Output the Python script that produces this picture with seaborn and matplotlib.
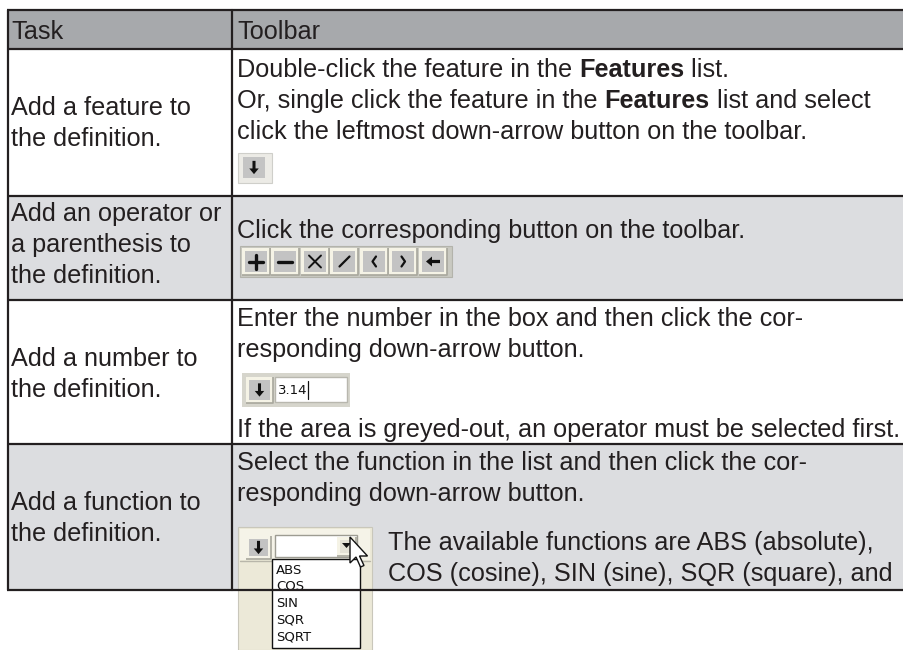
import matplotlib
matplotlib.use("Agg")
import matplotlib.pyplot as plt
from matplotlib.patches import Rectangle, Polygon
import seaborn as sns

# ---------------- data ----------------
header = ["Task", "Toolbar"]
tasks = [
    ["Add a feature to", "the definition."],
    ["Add an operator or", "a parenthesis to", "the definition."],
    ["Add a number to", "the definition."],
    ["Add a function to", "the definition."],
]
row1_lines = [
    [("Double-click the feature in the ", "normal"), ("Features", "bold"), (" list.", "normal")],
    [("Or, single click the feature in the ", "normal"), ("Features", "bold"), (" list and select", "normal")],
    [("click the leftmost down-arrow button on the toolbar.", "normal")],
]
row2_lines = ["Click the corresponding button on the toolbar."]
row3_lines = ["Enter the number in the box and then click the cor-",
              "responding down-arrow button."]
row3_note = "If the area is greyed-out, an operator must be selected first."
row4_lines = ["Select the function in the list and then click the cor-",
              "responding down-arrow button."]
row4_side = ["The available functions are ABS (absolute),",
             "COS (cosine), SIN (sine), SQR (square), and"]
operators = ["+", "−", "×", "/", "(", ")", "←"]
number_value = "3.14"
functions = ["ABS", "COS", "SIN", "SQR", "SQRT"]
row_shaded = [False, True, False, True]

# ---------------- style ----------------
sns.set_theme(style="white")
plt.rcParams["font.family"] = ["Liberation Sans", "DejaVu Sans"]
INK = "#231f20"
HEAD = "#a7a9ac"
SHADE = "#dcdde0"
FS = 18.2
LW = 1.6

fig = plt.figure(figsize=(9.04, 6.5), dpi=100)
ax = fig.add_axes([0, 0, 1, 1])
ax.set_xlim(0, 904)
ax.set_ylim(650, 0)
ax.axis("off")
renderer = fig.canvas.get_renderer()

X0, XD, X1 = 8, 232, 904
edges = [10, 49, 196, 300, 444, 590]

# backgrounds
ax.add_patch(Rectangle((X0, edges[0]), X1 - X0, edges[1] - edges[0], fc=HEAD, ec="none", zorder=0))
for i, sh in enumerate(row_shaded):
    if sh:
        ax.add_patch(Rectangle((X0, edges[i + 1]), X1 - X0, edges[i + 2] - edges[i + 1],
                               fc=SHADE, ec="none", zorder=0))


def rich(x, y, parts, size=FS, zorder=3):
    for s, w in parts:
        t = ax.text(x, y, s, fontsize=size, fontweight=w, color=INK, va="baseline",
                    ha="left", zorder=zorder)
        x += t.get_window_extent(renderer=renderer).width
    return x


def plain(x, y, s):
    rich(x, y, [(s, "normal")])


# header
plain(11, 39, header[0])
plain(237, 39, header[1])

# task column
task_baselines = [[115, 146], [221, 252, 283], [366, 397], [510, 541]]
for lines, bls in zip(tasks, task_baselines):
    for s, b in zip(lines, bls):
        plain(11, b, s)

# toolbar column text
for parts, b in zip(row1_lines, [77, 108, 139]):
    rich(237, b, parts)
plain(237, 238, row2_lines[0])
for s, b in zip(row3_lines, [326, 357]):
    plain(237, b, s)
plain(237, 437, row3_note)
for s, b in zip(row4_lines, [470, 501]):
    plain(237, b, s)
for s, b in zip(row4_side, [550, 581]):
    plain(388, b, s)

# ---------------- widgets ----------------
HI = "#f5f3e6"
SH = "#a8a79c"
FACE = "#c3c3c3"


def raised(x, y, w, h, face=FACE, z=4):
    ax.add_patch(Rectangle((x, y), w, h, fc=HI, ec="none", zorder=z))
    ax.plot([x + w, x + w, x], [y, y + h, y + h], color=SH, lw=1.2, zorder=z + 0.1,
            solid_capstyle="butt")
    ax.add_patch(Rectangle((x + 3, y + 3), w - 6, h - 6, fc=face, ec="none", zorder=z + 0.2))


def down_arrow(cx, cy, s=1.0, z=5):
    pts = [(-1.6, -7), (1.6, -7), (1.6, 1), (5, 1), (0, 7), (-5, 1), (-1.6, 1)]
    ax.add_patch(Polygon([(cx + px * s, cy + py * s) for px, py in pts], closed=True,
                         fc="#111111", ec="none", zorder=z))


def left_arrow(cx, cy, s=1.0, z=5):
    pts = [(7, -1.6), (7, 1.6), (-1, 1.6), (-1, 5), (-7, 0), (-1, -5), (-1, -1.6)]
    ax.add_patch(Polygon([(cx + px * s, cy + py * s) for px, py in pts], closed=True,
                         fc="#111111", ec="none", zorder=z))


# row 1 single down-arrow button
ax.add_patch(Rectangle((238, 153), 34, 30, fc="#ecebe6", ec="#cfcfca", lw=0.8, zorder=4))
ax.add_patch(Rectangle((243, 157), 22, 21, fc="#c4c4c4", ec="none", zorder=4.2))
down_arrow(254, 167.5, 0.95)

# row 2 operator toolbar
ax.add_patch(Rectangle((240, 246), 212, 31, fc="#c9c9c1", ec="#b3b3ab", lw=0.8, zorder=3.5))
bw = 29.5
for k, op in enumerate(operators):
    bx = 242 + k * bw
    raised(bx, 248, bw - 1.5, 27)
    cx, cy = bx + (bw - 1.5) / 2, 261.5
    if op == "←":
        left_arrow(cx, cy, 1.0)
    elif op == "/":
        ax.plot([cx - 5, cx + 5], [cy + 5, cy - 5], color="#111111", lw=1.6, zorder=6)
    elif op == "(":
        ax.plot([cx + 2, cx - 1.5, cx + 2], [cy - 5, cy, cy + 5], color="#111111", lw=1.6, zorder=6)
    elif op == ")":
        ax.plot([cx - 2, cx + 1.5, cx - 2], [cy - 5, cy, cy + 5], color="#111111", lw=1.6, zorder=6)
    elif op == "×":
        ax.plot([cx - 6, cx + 6], [cy - 6, cy + 6], color="#111111", lw=1.4, zorder=6)
        ax.plot([cx - 6, cx + 6], [cy + 6, cy - 6], color="#111111", lw=1.4, zorder=6)
    elif op == "−":
        ax.plot([cx - 7, cx + 7], [cy, cy], color="#111111", lw=2.4, zorder=6)
    else:
        ax.plot([cx - 7, cx + 7], [cy, cy], color="#111111", lw=2.4, zorder=6)
        ax.plot([cx, cx], [cy - 7, cy + 7], color="#111111", lw=2.4, zorder=6)

# row 3 number box
ax.add_patch(Rectangle((242, 373), 108, 34, fc="#d6d5cc", ec="none", zorder=4))
raised(246, 377, 27, 26)
down_arrow(259.5, 390, 0.95)
ax.add_patch(Rectangle((275, 377), 72, 25, fc="white", ec="#b8b7ae", lw=1.0, zorder=4.3))
nt = ax.text(278, 390, number_value, fontsize=9.5, family="DejaVu Sans", color="#111111",
             va="center", ha="left", zorder=5)
xe = 278 + nt.get_window_extent(renderer=renderer).width + 1
ax.plot([xe, xe], [381, 399], color="#111111", lw=0.9, zorder=5)

# row 4 dropdown screenshot
ax.add_patch(Rectangle((238, 527), 134, 123, fc="#ece9d8", ec="#c9c7bb", lw=0.8, zorder=4))
ax.add_patch(Rectangle((240, 529), 130, 31, fc="#f5f3e8", ec="none", zorder=4.1))
ax.plot([240, 370], [561, 561], color="#b8b6aa", lw=1.0, zorder=4.2)
raised(246, 536, 25, 23)
down_arrow(258.5, 547.5, 0.95)
ax.add_patch(Rectangle((275, 535), 82, 22, fc="white", ec="#9d9c92", lw=1.0, zorder=4.3))
raised(337, 537, 19, 19, face="#e4e2d6", z=4.4)
ax.add_patch(Polygon([(342, 543), (351, 543), (346.5, 548)], closed=True, fc="#111111",
                     ec="none", zorder=5))
ax.add_patch(Rectangle((272, 559), 88, 89, fc="white", ec="#111111", lw=1.0, zorder=4.5))
for k, fn in enumerate(functions):
    ax.text(276, 570 + k * 16.8, fn, fontsize=9.5, family="DejaVu Sans", color="#111111",
            va="center", ha="left", zorder=5)
cursor = [(0, 0), (0, 26), (6, 20), (10.5, 30), (14, 28.5), (9.5, 19), (17.5, 19)]
ax.add_patch(Polygon([(350 + px, 537 + py) for px, py in cursor], closed=True,
                     fc="white", ec="#111111", lw=1.0, zorder=7))

# ---------------- grid lines ----------------
for y in edges:
    ax.plot([X0 - 1, X1], [y, y], color=INK, lw=LW, zorder=8, solid_capstyle="butt")
ax.plot([X0, X0], [edges[0], edges[-1]], color=INK, lw=LW, zorder=8)
ax.plot([XD, XD], [edges[0], edges[-1]], color=INK, lw=LW, zorder=8)

fig.savefig("out.png", dpi=100, facecolor="white")
